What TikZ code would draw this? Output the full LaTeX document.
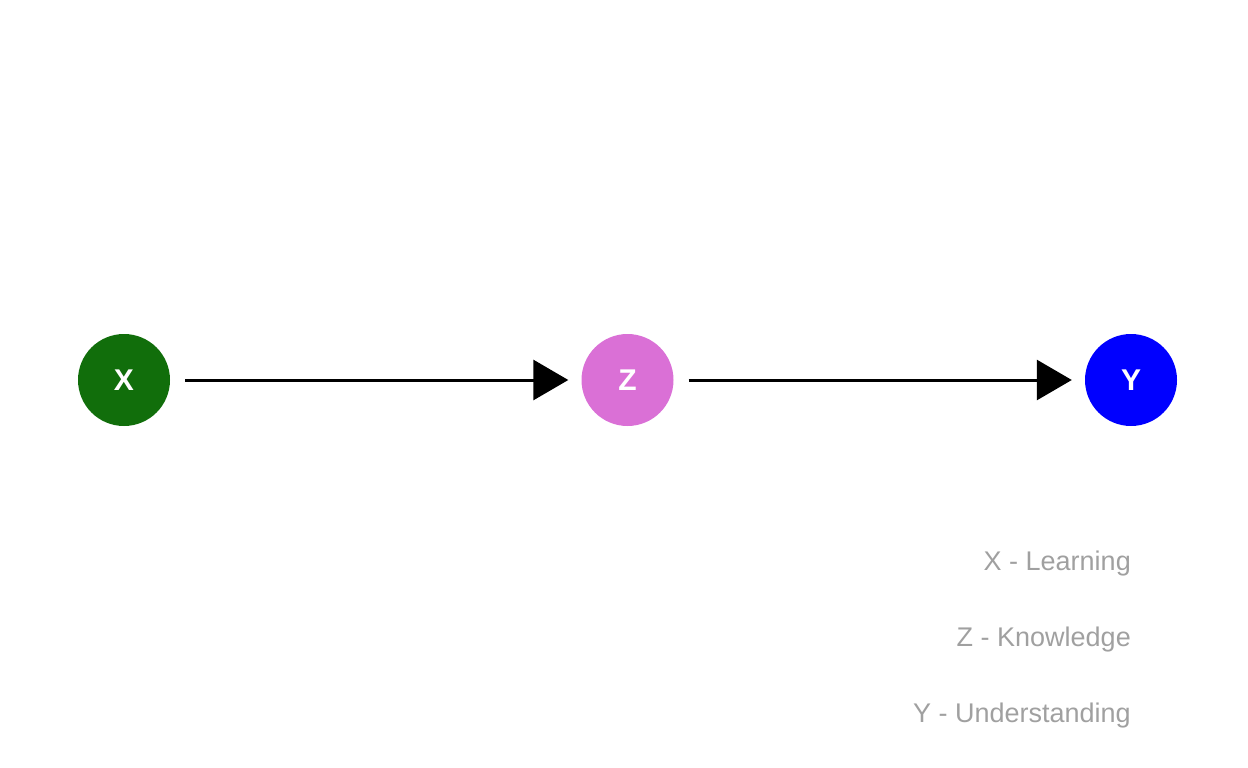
\documentclass[tikz,border=0pt]{standalone}
\usepackage{fontspec}
\setmainfont{Liberation Sans}
\usetikzlibrary{arrows.meta,positioning}

\definecolor{learncol}{HTML}{116E0B}
\definecolor{knowcol}{HTML}{DA70D6}
\definecolor{undercol}{HTML}{0000FF}
\definecolor{legendcol}{HTML}{A0A0A0}

\tikzset{
    var/.style={circle, minimum size=92pt, inner sep=0pt, text=white,
        font=\fontsize{30}{34}\selectfont\bfseries},
    link/.style={line width=3pt, -{Triangle[length=35pt, width=40pt]},
        shorten <=15pt, shorten >=13pt},
    legend/.style={anchor=east, text=legendcol, inner sep=0pt,
        font=\fontsize{27}{32}\selectfont}
}

\begin{document}
\begin{tikzpicture}[x=1pt, y=-1pt]

            \useasboundingbox (0,0) rectangle (1248,768);

            % variables
            \foreach \m/\c [count=\i from 0] in {X/learncol, Z/knowcol, Y/undercol}
                \node [var, fill=\c] (var-\m) at (124+\i*503.5,380) {\m};

            % causal links
            \draw [link] (var-X) -- (var-Z);
            \draw [link] (var-Z) -- (var-Y);

            % legend
            \foreach \m/\l [count=\y from 0] in {X/Learning, Z/Knowledge, Y/Understanding}
                \node [legend] (legend-\m) at (1131,564+\y*76) {\m\ - \l};

\end{tikzpicture}
\end{document}
